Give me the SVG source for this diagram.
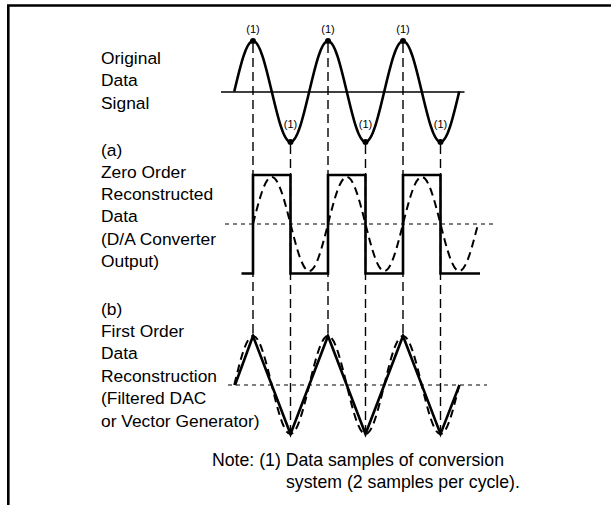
<svg xmlns="http://www.w3.org/2000/svg" width="611" height="505" viewBox="0 0 611 505">
<defs>
<style>
.lbl{font-family:"Liberation Sans",Arial,sans-serif;font-size:17.4px;fill:#000}
.sm{font-family:"Liberation Sans",Arial,sans-serif;font-size:11px;fill:#000;text-anchor:middle}
.thick{fill:none;stroke:#000;stroke-width:2.6;stroke-linejoin:miter}
.dsh{fill:none;stroke:#000;stroke-width:2;stroke-dasharray:8 5}
.vd{fill:none;stroke:#000;stroke-width:1.4;stroke-dasharray:9 5}
.hd{fill:none;stroke:#000;stroke-width:1;stroke-dasharray:4 4}
.ax{fill:none;stroke:#000;stroke-width:1.6}
</style>
</defs>
<rect width="611" height="505" fill="#fff"/>
<g id="frame">
<path d="M7,5.5 H611 M8.3,4.3 V505" class="ax" style="stroke-width:2.6"/>
</g>
<g id="labels">
<text class="lbl" x="101" y="64">Original</text>
<text class="lbl" x="101" y="86.4">Data</text>
<text class="lbl" x="101" y="108.8">Signal</text>
<text class="lbl" x="101" y="155.5">(a)</text>
<text class="lbl" x="101" y="177.5">Zero Order</text>
<text class="lbl" x="101" y="200">Reconstructed</text>
<text class="lbl" x="101" y="222.4">Data</text>
<text class="lbl" x="101" y="244.8">(D/A Converter</text>
<text class="lbl" x="101" y="267.2">Output)</text>
<text class="lbl" x="101" y="314.5">(b)</text>
<text class="lbl" x="101" y="337">First Order</text>
<text class="lbl" x="101" y="359.4">Data</text>
<text class="lbl" x="101" y="381.8">Reconstruction</text>
<text class="lbl" x="101" y="404.2">(Filtered DAC</text>
<text class="lbl" x="101" y="426.6">or Vector Generator)</text>
</g>
<g id="note">
<text class="lbl" x="212" y="466" style="font-size:17.7px">Note: (1) Data samples of conversion</text>
<text class="lbl" x="286" y="488" style="font-size:17.7px">system (2 samples per cycle).</text>
</g>
<g id="connectors">
<path class="vd" d="M253,44 V336 M328,44 V336 M403,44 V336 M290.5,145 V434 M365.5,145 V434 M440.5,145 V434"/>
</g>
<g id="original-signal">
<path class="ax" d="M221,92 H464.5"/>
<path class="thick" d="M234.25,91.5 c6.27,-26.52 12,-50.5 18.75,-50.5 c6.75,0 12.48,23.98 18.75,50.5 c6.27,26.52 12,50.5 18.75,50.5 c6.75,0 12.48,-23.98 18.75,-50.5 c6.27,-26.52 12,-50.5 18.75,-50.5 c6.75,0 12.48,23.98 18.75,50.5 c6.27,26.52 12,50.5 18.75,50.5 c6.75,0 12.48,-23.98 18.75,-50.5 c6.27,-26.52 12,-50.5 18.75,-50.5 c6.75,0 12.48,23.98 18.75,50.5 c6.27,26.52 12,50.5 18.75,50.5 c6.75,0 12.48,-23.98 18.75,-50.5"/>
<g fill="#000">
<circle cx="253" cy="41" r="3"/><circle cx="328" cy="41" r="3"/><circle cx="403" cy="41" r="3"/>
<circle cx="290.5" cy="142" r="3"/><circle cx="365.5" cy="142" r="3"/><circle cx="440.5" cy="142" r="3"/>
</g>
<text class="sm" x="253" y="33">(1)</text>
<text class="sm" x="328" y="33">(1)</text>
<text class="sm" x="403" y="33">(1)</text>
<text class="sm" x="290.5" y="128">(1)</text>
<text class="sm" x="365.5" y="128">(1)</text>
<text class="sm" x="440.5" y="128">(1)</text>
</g>
<g id="zero-order">
<path class="hd" d="M225,224 H493"/>
<path class="dsh" d="M253,224 c6.27,-24.68 12,-47 18.75,-47 c6.75,0 12.480,22.32 18.75,47 c6.27,24.68 12,47 18.75,47 c6.75,0 12.48,-22.32 18.75,-47 c6.27,-24.68 12,-47 18.75,-47 c6.75,0 12.48,22.32 18.75,47 c6.27,24.68 12,47 18.75,47 c6.75,0 12.48,-22.32 18.75,-47 c6.27,-24.68 12,-47 18.75,-47 c6.75,0 12.48,22.32 18.75,47 c6.27,24.68 12,47 18.75,47 c6.75,0 12.48,-22.32 18.75,-47"/>
<path class="thick" d="M241.5,273.5 H253 V175 H290.5 V273.5 H328 V175 H365.5 V273.5 H403 V175 H440.5 V273.5 H480"/>
</g>
<g id="first-order">
<path class="hd" d="M228,385 H487"/>
<path class="dsh" d="M234.25,385 c6.27,-25.73 12,-49 18.75,-49 c6.75,0 12.48,23.27 18.75,49 c6.27,25.73 12,49 18.75,49 c6.75,0 12.48,-23.27 18.75,-49 c6.27,-25.73 12,-49 18.75,-49 c6.75,0 12.48,23.27 18.75,49 c6.27,25.73 12,49 18.75,49 c6.75,0 12.48,-23.27 18.75,-49 c6.27,-25.73 12,-49 18.75,-49 c6.75,0 12.48,23.27 18.75,49 c6.27,25.73 12,49 18.75,49 c6.75,0 12.48,-23.27 18.75,-49"/>
<path class="thick" d="M235,385 L253,336 L290.5,434 L328,336 L365.5,434 L403,336 L440.5,434 L459.5,385"/>
</g>
</svg>
